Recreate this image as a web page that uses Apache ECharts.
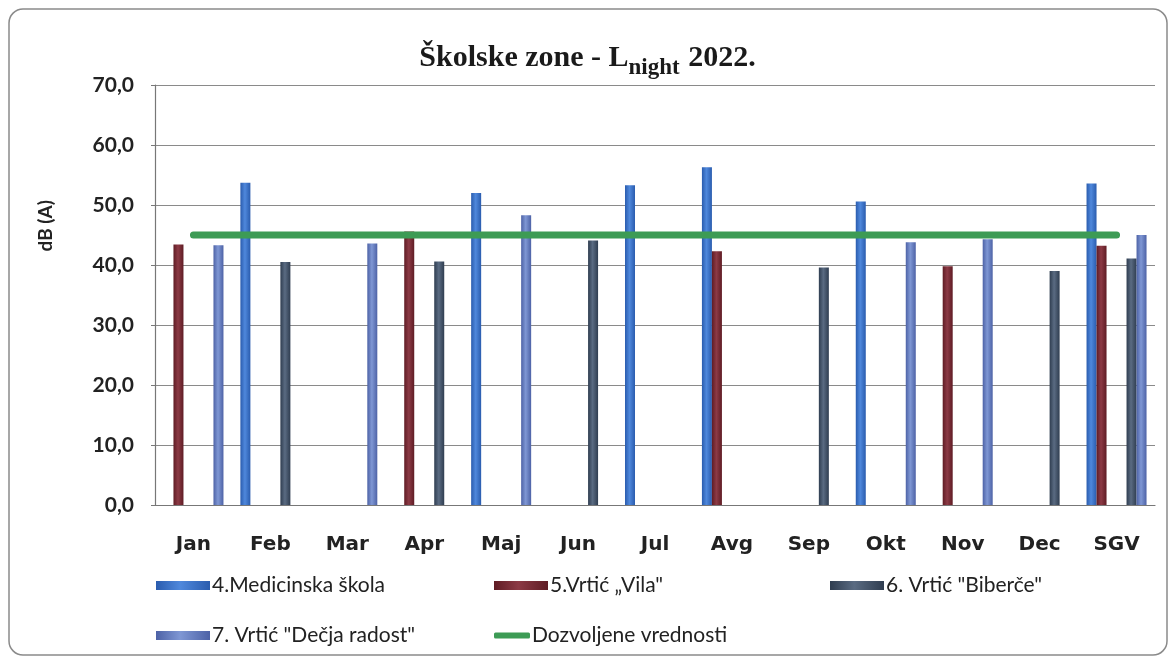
<!DOCTYPE html>
<html>
<head>
<meta charset="utf-8">
<script src="https://cdn.jsdelivr.net/npm/echarts@6/dist/echarts.min.js"></script>
<style>
html,body{margin:0;padding:0;background:#fff;}
#c{width:1175px;height:664px;}
</style>
</head>
<body>
<div id="c"></div>
<script>
var categories = ['Jan','Feb','Mar','Apr','Maj','Jun','Jul','Avg','Sep','Okt','Nov','Dec','SGV'];
var medicinska = [null, 53.7, null, null, 52.0, null, 53.3, 56.3, null, 50.6, null, null, 53.6];
var vila       = [43.4, null, null, 45.6, null, null, null, 42.3, null, null, 39.8, null, 43.2];
var biberce    = [null, 40.5, null, 40.6, null, 44.1, null, null, 39.6, null, null, 39.0, 41.1];
var decja      = [43.3, null, 43.6, null, 48.3, null, null, null, null, 43.8, 44.3, null, 45.0];
var dozvoljene = [45, 45, 45, 45, 45, 45, 45, 45, 45, 45, 45, 45, 45];
var emptySlot  = [null, null, null, null, null, null, null, null, null, null, null, null, null];
var yTickValues = [0, 10, 20, 30, 40, 50, 60, 70];
var yTickLabels = ['0,0','10,0','20,0','30,0','40,0','50,0','60,0','70,0'];
var seriesNames = ['4.Medicinska škola', '5.Vrtić „Vila"', '6. Vrtić "Biberče"', '7. Vrtić "Dečja radost"', 'Dozvoljene vrednosti'];

function cyl(edge, mid) {
  return new echarts.graphic.LinearGradient(0, 0, 1, 0, [
    {offset: 0, color: edge}, {offset: 0.45, color: mid}, {offset: 1, color: edge}
  ]);
}
var colBlue = cyl('#2a5cae', '#4f88dc');
var colRed = cyl('#5f1c24', '#8c3a45');
var colDark = cyl('#2f3d50', '#5a6b82');
var colLight = cyl('#4d62a6', '#7f97d4');

var chart = echarts.init(document.getElementById('c'), null, {renderer: 'canvas'});
var legendText = {fontFamily: 'Lato', fontSize: 21, color: '#222', padding: [0, 0, 0, -3]};
function mkLegend(name, left, top, isLine) {
  return {
    data: [name], left: left, top: top, orient: 'horizontal',
    itemWidth: isLine ? 36 : 54, itemHeight: isLine ? 6 : 9, itemGap: 0,
    icon: isLine ? 'roundRect' : 'rect',
    textStyle: legendText, padding: 0, selectedMode: false
  };
}
var barBase = {type: 'bar', barWidth: 10, barGap: '0%', xAxisIndex: 0, yAxisIndex: 0};

chart.setOption({
  backgroundColor: '#ffffff',
  animation: false,
  title: {
    text: '{a|Školske zone - L}{s|night}{a| 2022.}',
    left: 'center', top: 38,
    textStyle: {
      rich: {
        a: {fontFamily: 'Liberation Serif', fontWeight: 'bold', fontSize: 30, color: '#1a1a1a', verticalAlign: 'top', lineHeight: 33},
        s: {fontFamily: 'Liberation Serif', fontWeight: 'bold', fontSize: 23, color: '#1a1a1a', verticalAlign: 'top', lineHeight: 22, padding: [14, 1, 0, 0]}
      }
    }
  },
  graphic: [
    {type: 'rect', shape: {x: 9, y: 9, width: 1158, height: 646, r: 14}, style: {fill: 'none', stroke: '#8a8a8a', lineWidth: 1.5}, silent: true, z: -1},
    {type: 'text', left: 36, top: 200, rotation: Math.PI / 2, style: {text: 'dB (A)', font: 'bold 19px Lato', fill: '#222'}}
  ],
  legend: [
    mkLegend(seriesNames[0], 156, 575, false),
    mkLegend(seriesNames[1], 494, 575, false),
    mkLegend(seriesNames[2], 830, 575, false),
    mkLegend(seriesNames[3], 156, 625, false),
    mkLegend(seriesNames[4], 494, 625, true)
  ],
  grid: {left: 155, right: 20, top: 85, bottom: 159, containLabel: false},
  xAxis: {
    type: 'category', data: categories, boundaryGap: true,
    axisLine: {lineStyle: {color: '#777', width: 1.2}},
    axisTick: {show: false},
    axisLabel: {fontFamily: 'DejaVu Sans', fontWeight: 'bold', fontSize: 20, color: '#222', margin: 30, interval: 0}
  },
  yAxis: {
    type: 'value', min: 0, max: 70, interval: 10,
    axisLine: {show: true, lineStyle: {color: '#777', width: 1.2}},
    axisTick: {show: true, length: 4, lineStyle: {color: '#777'}},
    splitLine: {lineStyle: {color: '#8a8a8a', width: 1.2}},
    axisLabel: {
      fontFamily: 'Lato', fontWeight: 'bold', fontSize: 21, color: '#222', margin: 21,
      formatter: function (v) { var i = yTickValues.indexOf(v); return i >= 0 ? yTickLabels[i] : ''; }
    }
  },
  series: [
    Object.assign({}, barBase, {name: seriesNames[0], data: medicinska, itemStyle: {color: colBlue}}),
    Object.assign({}, barBase, {name: seriesNames[1], data: vila, itemStyle: {color: colRed}}),
    Object.assign({}, barBase, {name: 'slot3', data: emptySlot}),
    Object.assign({}, barBase, {name: 'slot4', data: emptySlot}),
    Object.assign({}, barBase, {name: seriesNames[2], data: biberce, itemStyle: {color: colDark}}),
    Object.assign({}, barBase, {name: seriesNames[3], data: decja, itemStyle: {color: colLight}}),
    {type: 'line', name: seriesNames[4], data: dozvoljene, symbol: 'none', z: 5,
     lineStyle: {color: '#3d9b55', width: 7, cap: 'round'}, itemStyle: {color: '#3d9b55'}}
  ]
});
</script>
</body>
</html>
